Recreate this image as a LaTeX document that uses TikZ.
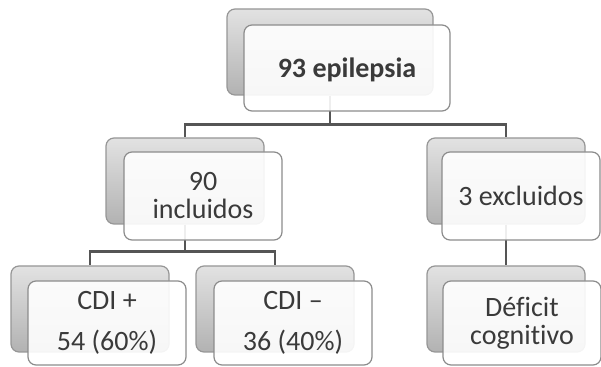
\documentclass[tikz,border=0pt]{standalone}
\usepackage{fontspec}
\setmainfont{Carlito}[Ligatures=NoCommon]
\begin{document}
\begin{tikzpicture}[x=0.75pt,y=0.75pt,yscale=-1,xscale=1,
  backbox/.style={draw={rgb,255:red,150;green,150;blue,150},line width=0.9pt,rounded corners=6pt,
    top color={rgb,255:red,226;green,226;blue,226},bottom color={rgb,255:red,178;green,178;blue,178},
    minimum width=118.5pt,minimum height=64.5pt,inner sep=0pt},
  frontbox/.style={draw={rgb,255:red,140;green,140;blue,140},line width=0.9pt,rounded corners=6pt,
    fill=white,fill opacity=0.9,text opacity=1,text={rgb,255:red,58;green,58;blue,58},
    minimum width=118.5pt,minimum height=64.5pt,inner sep=2pt,align=center,
    font=\fontsize{21}{21}\selectfont},
  link/.style={draw={rgb,255:red,85;green,85;blue,85},line width=2.2pt}]

\useasboundingbox (0,0) rectangle (601,367);

%Shapes: back boxes
\node [backbox,minimum width=154.5pt] (bTop) at (330,52) {};
\node [backbox] (bIncl) at (185,181) {};
\node [backbox] (bExcl) at (506,181) {};
\node [backbox] (bPos) at (90,309) {};
\node [backbox] (bNeg) at (275,309) {};
\node [backbox] (bDef) at (506,309) {};

%Connectors
\draw [link] (bTop.south) -- ++(0,29) -| (bIncl.north);
\draw [link] (bTop.south) -- ++(0,29) -| (bExcl.north);
\draw [link] (bIncl.south) -- ++(0,27) -| (bPos.north);
\draw [link] (bIncl.south) -- ++(0,27) -| (bNeg.north);
\draw [link] (bExcl.south) -- (bDef.north);

% Text Nodes: front boxes
\node [frontbox,minimum width=154.5pt,text depth=-6pt] (fTop) at (347,68) {\textbf{93 epilepsia}};
\node [frontbox,minimum height=66pt] (fIncl) at (203,196) {90\\incluidos};
\node [frontbox,minimum height=66pt] (fExcl) at (521,196) {3 excluidos};
\node [frontbox,minimum height=63pt] (fPos) at (107,323) {CDI +\\[10pt]54 (60\%)};
\node [frontbox,minimum height=63pt] (fNeg) at (293,323) {CDI –\\[10pt]36 (40\%)};
\node [frontbox,minimum height=63pt] (fDef) at (522,323) {Déficit\\cognitivo};
\end{tikzpicture}
\end{document}
